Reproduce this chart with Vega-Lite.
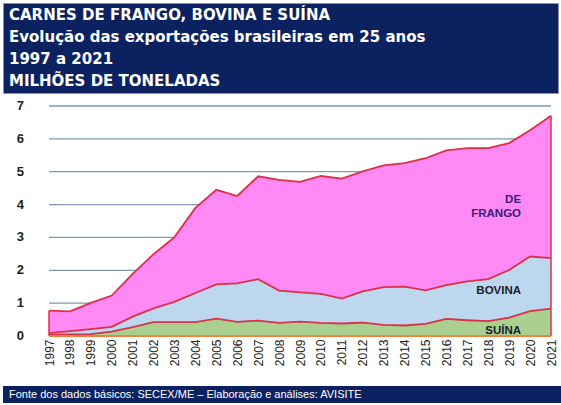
{
  "$schema": "https://vega.github.io/schema/vega-lite/v6.json",
  "description": "Exportações brasileiras de carnes de frango, bovina e suína, 1997 a 2021, em milhões de toneladas.",
  "padding": {"left": 2, "top": 2, "right": 0, "bottom": 0},
  "background": "white",
  "config": {"font": "Liberation Sans", "view": {"stroke": null}},
  "datasets": {
    "ordem": [
      {"carne": "SUÍNA", "ordem": 1},
      {"carne": "BOVINA", "ordem": 2},
      {"carne": "DE FRANGO", "ordem": 3}
    ],
    "grade": [
      {"linha": 0}, {"linha": 1}, {"linha": 2}, {"linha": 3},
      {"linha": 4}, {"linha": 5}, {"linha": 6}, {"linha": 7}
    ]
  },
  "spacing": 6,
  "vconcat": [
    {
      "width": 555,
      "height": 90,
      "view": {"fill": "#0c2160", "stroke": "#8d93a3"},
      "data": {
        "values": [
          {"linha": 1, "texto": "CARNES DE FRANGO, BOVINA E SUÍNA"},
          {"linha": 2, "texto": "Evolução das exportações brasileiras em 25 anos"},
          {"linha": 3, "texto": "1997 a 2021"},
          {"linha": 4, "texto": "MILHÕES DE TONELADAS"}
        ]
      },
      "mark": {"type": "text", "align": "left", "baseline": "middle", "color": "white", "font": "DejaVu Sans", "fontSize": 15, "fontWeight": "bold", "dx": 6},
      "encoding": {
        "x": {"datum": 0, "type": "quantitative", "scale": {"domain": [0, 1]}, "axis": null},
        "y": {"field": "linha", "type": "ordinal", "axis": null, "scale": {"type": "point", "padding": 0.55}},
        "text": {"field": "texto"}
      }
    },
    {
      "spacing": 20,
      "vconcat": [
        {
          "width": 555,
          "height": 230,
          "data": {
            "values": [
              {"ano": 1997, "carne": "DE FRANGO", "valor": 0.68}, {"ano": 1997, "carne": "BOVINA", "valor": 0.05}, {"ano": 1997, "carne": "SUÍNA", "valor": 0.04},
              {"ano": 1998, "carne": "DE FRANGO", "valor": 0.60}, {"ano": 1998, "carne": "BOVINA", "valor": 0.10}, {"ano": 1998, "carne": "SUÍNA", "valor": 0.05},
              {"ano": 1999, "carne": "DE FRANGO", "valor": 0.80}, {"ano": 1999, "carne": "BOVINA", "valor": 0.15}, {"ano": 1999, "carne": "SUÍNA", "valor": 0.06},
              {"ano": 2000, "carne": "DE FRANGO", "valor": 0.95}, {"ano": 2000, "carne": "BOVINA", "valor": 0.15}, {"ano": 2000, "carne": "SUÍNA", "valor": 0.13},
              {"ano": 2001, "carne": "DE FRANGO", "valor": 1.30}, {"ano": 2001, "carne": "BOVINA", "valor": 0.32}, {"ano": 2001, "carne": "SUÍNA", "valor": 0.27},
              {"ano": 2002, "carne": "DE FRANGO", "valor": 1.65}, {"ano": 2002, "carne": "BOVINA", "valor": 0.42}, {"ano": 2002, "carne": "SUÍNA", "valor": 0.42},
              {"ano": 2003, "carne": "DE FRANGO", "valor": 1.97}, {"ano": 2003, "carne": "BOVINA", "valor": 0.62}, {"ano": 2003, "carne": "SUÍNA", "valor": 0.42},
              {"ano": 2004, "carne": "DE FRANGO", "valor": 2.59}, {"ano": 2004, "carne": "BOVINA", "valor": 0.89}, {"ano": 2004, "carne": "SUÍNA", "valor": 0.42},
              {"ano": 2005, "carne": "DE FRANGO", "valor": 2.88}, {"ano": 2005, "carne": "BOVINA", "valor": 1.04}, {"ano": 2005, "carne": "SUÍNA", "valor": 0.53},
              {"ano": 2006, "carne": "DE FRANGO", "valor": 2.66}, {"ano": 2006, "carne": "BOVINA", "valor": 1.17}, {"ano": 2006, "carne": "SUÍNA", "valor": 0.43},
              {"ano": 2007, "carne": "DE FRANGO", "valor": 3.13}, {"ano": 2007, "carne": "BOVINA", "valor": 1.26}, {"ano": 2007, "carne": "SUÍNA", "valor": 0.47},
              {"ano": 2008, "carne": "DE FRANGO", "valor": 3.37}, {"ano": 2008, "carne": "BOVINA", "valor": 0.98}, {"ano": 2008, "carne": "SUÍNA", "valor": 0.40},
              {"ano": 2009, "carne": "DE FRANGO", "valor": 3.36}, {"ano": 2009, "carne": "BOVINA", "valor": 0.89}, {"ano": 2009, "carne": "SUÍNA", "valor": 0.44},
              {"ano": 2010, "carne": "DE FRANGO", "valor": 3.59}, {"ano": 2010, "carne": "BOVINA", "valor": 0.88}, {"ano": 2010, "carne": "SUÍNA", "valor": 0.40},
              {"ano": 2011, "carne": "DE FRANGO", "valor": 3.65}, {"ano": 2011, "carne": "BOVINA", "valor": 0.76}, {"ano": 2011, "carne": "SUÍNA", "valor": 0.38},
              {"ano": 2012, "carne": "DE FRANGO", "valor": 3.65}, {"ano": 2012, "carne": "BOVINA", "valor": 0.95}, {"ano": 2012, "carne": "SUÍNA", "valor": 0.41},
              {"ano": 2013, "carne": "DE FRANGO", "valor": 3.70}, {"ano": 2013, "carne": "BOVINA", "valor": 1.15}, {"ano": 2013, "carne": "SUÍNA", "valor": 0.34},
              {"ano": 2014, "carne": "DE FRANGO", "valor": 3.76}, {"ano": 2014, "carne": "BOVINA", "valor": 1.18}, {"ano": 2014, "carne": "SUÍNA", "valor": 0.32},
              {"ano": 2015, "carne": "DE FRANGO", "valor": 4.02}, {"ano": 2015, "carne": "BOVINA", "valor": 1.02}, {"ano": 2015, "carne": "SUÍNA", "valor": 0.37},
              {"ano": 2016, "carne": "DE FRANGO", "valor": 4.10}, {"ano": 2016, "carne": "BOVINA", "valor": 1.03}, {"ano": 2016, "carne": "SUÍNA", "valor": 0.52},
              {"ano": 2017, "carne": "DE FRANGO", "valor": 4.06}, {"ano": 2017, "carne": "BOVINA", "valor": 1.18}, {"ano": 2017, "carne": "SUÍNA", "valor": 0.48},
              {"ano": 2018, "carne": "DE FRANGO", "valor": 3.99}, {"ano": 2018, "carne": "BOVINA", "valor": 1.28}, {"ano": 2018, "carne": "SUÍNA", "valor": 0.45},
              {"ano": 2019, "carne": "DE FRANGO", "valor": 3.86}, {"ano": 2019, "carne": "BOVINA", "valor": 1.45}, {"ano": 2019, "carne": "SUÍNA", "valor": 0.56},
              {"ano": 2020, "carne": "DE FRANGO", "valor": 3.84}, {"ano": 2020, "carne": "BOVINA", "valor": 1.66}, {"ano": 2020, "carne": "SUÍNA", "valor": 0.76},
              {"ano": 2021, "carne": "DE FRANGO", "valor": 4.33}, {"ano": 2021, "carne": "BOVINA", "valor": 1.54}, {"ano": 2021, "carne": "SUÍNA", "valor": 0.83}
            ]
          },
          "encoding": {
            "x": {
              "field": "ano",
              "type": "ordinal",
              "scale": {"type": "point", "range": [46, 548], "padding": 0},
              "axis": {"title": null, "labelAngle": -90, "labelFontSize": 12, "labelColor": "#222222", "ticks": false, "domain": false, "labelPadding": 3}
            }
          },
          "layer": [
            {
              "data": {"name": "grade"},
              "mark": {"type": "rule", "color": "#7f97b2", "strokeWidth": 1.3},
              "encoding": {
                "x": {"datum": 1997, "type": "ordinal"},
                "x2": {"datum": 2021},
                "y": {"field": "linha", "type": "quantitative", "scale": {"domain": [0, 7], "nice": false}, "axis": null}
              }
            },
            {
              "data": {"name": "grade"},
              "mark": {"type": "text", "align": "right", "baseline": "middle", "fontSize": 13, "fontWeight": "bold", "color": "#1e1e1e", "dx": -25},
              "encoding": {
                "x": {"datum": 1997, "type": "ordinal"},
                "y": {"field": "linha", "type": "quantitative", "axis": null},
                "text": {"field": "linha"}
              }
            },
            {
              "transform": [
                {"lookup": "carne", "from": {"data": {"name": "ordem"}, "key": "carne", "fields": ["ordem"]}}
              ],
              "mark": {"type": "area", "opacity": 1},
              "encoding": {
                "y": {"field": "valor", "type": "quantitative", "stack": "zero", "axis": null},
                "color": {
                  "field": "carne",
                  "type": "nominal",
                  "scale": {"domain": ["SUÍNA", "BOVINA", "DE FRANGO"], "range": ["#a9d08e", "#bdd7ee", "#ff8af5"]},
                  "legend": null
                },
                "order": {"field": "ordem", "type": "quantitative"}
              }
            },
            {
              "transform": [
                {"lookup": "carne", "from": {"data": {"name": "ordem"}, "key": "carne", "fields": ["ordem"]}},
                {"stack": "valor", "groupby": ["ano"], "sort": [{"field": "ordem", "order": "ascending"}], "as": ["v0", "v1"]}
              ],
              "mark": {"type": "line", "color": "#dc2f4a", "strokeWidth": 1.8},
              "encoding": {
                "y": {"field": "v1", "type": "quantitative", "axis": null},
                "detail": {"field": "carne", "type": "nominal"}
              }
            },
            {
              "transform": [{"filter": "datum.ano == 1997 || datum.ano == 2021"}],
              "mark": {"type": "rule", "color": "#dc2f4a", "strokeWidth": 1.5},
              "encoding": {
                "y": {"aggregate": "sum", "field": "valor", "type": "quantitative", "axis": null},
                "y2": {"datum": 0}
              }
            },
            {
              "mark": {"type": "rule", "color": "#f0823c", "strokeWidth": 1.5},
              "encoding": {
                "x": {"datum": 1997, "type": "ordinal"},
                "x2": {"datum": 2021},
                "y": {"datum": 0, "type": "quantitative", "axis": null}
              }
            },
            {
              "transform": [
                {"filter": "datum.ano == 2020"},
                {"stack": "valor", "groupby": ["ano"], "sort": [{"field": "valor", "order": "ascending"}], "as": ["v0", "v1"]},
                {"fold": ["v0", "v1"], "as": ["borda", "pos"]}
              ],
              "mark": {"type": "text", "align": "right", "baseline": "middle", "fontSize": 11.5, "fontWeight": "bold", "lineBreak": " ", "lineHeight": 14, "dx": -9, "dy": 7},
              "encoding": {
                "y": {"aggregate": "mean", "field": "pos", "type": "quantitative", "axis": null},
                "text": {"field": "carne"},
                "color": {"condition": {"test": "datum.carne == 'DE FRANGO'", "value": "#3b1c78"}, "value": "#1b1b2b"}
              }
            }
          ]
        },
        {
          "width": 559,
          "height": 17,
          "view": {"fill": "#0c2160", "stroke": null},
          "data": {"values": [{"texto": "Fonte dos dados básicos: SECEX/ME – Elaboração e análises: AVISITE"}]},
          "mark": {"type": "text", "align": "left", "baseline": "middle", "color": "white", "fontSize": 11, "dx": 6},
          "encoding": {
            "x": {"datum": 0, "type": "quantitative", "scale": {"domain": [0, 1]}, "axis": null},
            "y": {"datum": 0, "type": "quantitative", "scale": {"domain": [-1, 1]}, "axis": null},
            "text": {"field": "texto"}
          }
        }
      ]
    }
  ]
}
